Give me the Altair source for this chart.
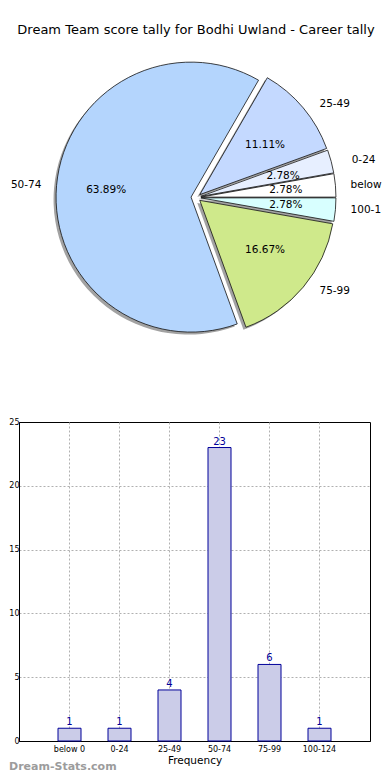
import altair as alt
import pandas as pd

# ---- data ----
categories = ["below 0", "0-24", "25-49", "50-74", "75-99", "100-124"]
counts = [1, 1, 4, 23, 6, 1]
title_text = "Dream Team score tally for Bodhi Uwland - Career tally"
watermark = "Dream-Stats.com"

slice_colors = ["#ffffff", "#e7efff", "#c4d9ff", "#b4d5fd", "#cfe98b", "#d8ffff"]

FONT = "DejaVu Sans"
EXPLODE = 0.035
R = 135          # pie radius (px)
CX, CY = 177, 189.5
RX, RY = 142, 128
PIE_W = 363

df = pd.DataFrame({"category": categories, "n": counts, "order": list(range(len(categories)))})

xs = alt.Scale(domain=[-1, 1], range=[CX - RX, CX + RX])
ys = alt.Scale(domain=[-1, 1], range=[CY + RY, CY - RY])

base = (
    alt.Chart(df)
    .transform_joinaggregate(total="sum(n)")
    .transform_window(cum="sum(n)", sort=[alt.SortField("order")], frame=[None, 0])
    .transform_calculate(
        a0="(datum.cum - datum.n) / datum.total * 2 * PI",
        a1="datum.cum / datum.total * 2 * PI",
    )
    .transform_calculate(
        mid="(datum.a0 + datum.a1) / 2",
        t0="2.5 * PI - datum.a1",
        t1="2.5 * PI - datum.a0",
    )
    .transform_calculate(
        ex=f"{EXPLODE} * cos(datum.mid)",
        ey=f"{EXPLODE} * sin(datum.mid)",
        lx=f"{EXPLODE + 1.1} * cos(datum.mid)",
        ly=f"{EXPLODE + 1.1} * sin(datum.mid)",
        px=f"{EXPLODE + 0.6} * cos(datum.mid)",
        py=f"{EXPLODE + 0.6} * sin(datum.mid)",
        pct="format(datum.n / datum.total * 100, '.2f') + '%'",
    )
)

shadow = base.mark_arc(radius=R, fill="#555555", opacity=0.55, xOffset=-2.5, yOffset=2.5).encode(
    theta=alt.Theta("t0:Q", scale=None),
    theta2=alt.Theta2("t1:Q"),
    x=alt.X("ex:Q", scale=xs, axis=None),
    y=alt.Y("ey:Q", scale=ys, axis=None),
)

slices = base.mark_arc(radius=R, stroke="#111111", strokeWidth=0.8).encode(
    theta=alt.Theta("t0:Q", scale=None),
    theta2=alt.Theta2("t1:Q"),
    x=alt.X("ex:Q", scale=xs, axis=None),
    y=alt.Y("ey:Q", scale=ys, axis=None),
    color=alt.Color("category:N", scale=alt.Scale(domain=categories, range=slice_colors), legend=None),
)

pct_text = base.mark_text(font=FONT, fontSize=10.5, color="black").encode(
    x=alt.X("px:Q", scale=xs, axis=None),
    y=alt.Y("py:Q", scale=ys, axis=None),
    text="pct:N",
)

lab_right = base.transform_filter("cos(datum.mid) >= 0 && abs(sin(datum.mid)) > 0.15").mark_text(
    font=FONT, fontSize=10.5, align="left", baseline="middle", color="black"
).encode(
    x=alt.X("lx:Q", scale=xs, axis=None),
    y=alt.Y("ly:Q", scale=ys, axis=None),
    text="category:N",
)

# labels at the right edge run off the picture, as in the original
lab_edge = base.transform_filter("cos(datum.mid) >= 0 && abs(sin(datum.mid)) <= 0.15").mark_text(
    font=FONT, fontSize=10.5, align="left", baseline="middle", color="black",
    dx=-6, limit=31.8, ellipsis="\u200b"
).encode(
    x=alt.X("lx:Q", scale=xs, axis=None),
    y=alt.Y("ly:Q", scale=ys, axis=None),
    text="category:N",
)

lab_left = base.transform_filter("cos(datum.mid) < 0").mark_text(
    font=FONT, fontSize=10.5, align="right", baseline="middle", color="black", dx=6
).encode(
    x=alt.X("lx:Q", scale=xs, axis=None),
    y=alt.Y("ly:Q", scale=ys, axis=None),
    text="category:N",
)

title = alt.Chart(pd.DataFrame({"t": [title_text]})).mark_text(
    font=FONT, fontSize=13, align="center", baseline="middle", color="black"
).encode(text="t:N", x=alt.value(CX), y=alt.value(22))

pie = alt.layer(shadow, slices, pct_text, lab_right, lab_edge, lab_left, title).properties(
    width=PIE_W, height=409
)

# ---- bar chart ----
grid_kw = dict(gridDash=[2, 2], gridColor="#b0b0b0", gridWidth=1)

bars = alt.Chart(df).mark_bar(fill="#cbcce8", stroke="#000099", strokeWidth=1).encode(
    x=alt.X(
        "category:N",
        sort=categories,
        scale=alt.Scale(paddingInner=0.54, paddingOuter=0.78),
        axis=alt.Axis(
            title="Frequency", labelAngle=0, labelFontSize=8, labelColor="black",
            titleFontSize=10.5, titleFontWeight="normal", titleColor="black", titleFont=FONT,
            labelFont=FONT, ticks=False, labelPadding=4, titlePadding=2,
            domainColor="black", bandPosition=0.5, grid=True, **grid_kw,
        ),
    ),
    y=alt.Y(
        "n:Q",
        scale=alt.Scale(domain=[0, 25], nice=False),
        axis=alt.Axis(
            title="", values=[0, 5, 10, 15, 20, 25], labelFontSize=8, labelColor="black",
            labelFont=FONT, ticks=False, labelPadding=0, domainColor="black", grid=True,
            gridOpacity={"condition": {"test": "datum.value >= 25 || datum.value <= 0", "value": 0}, "value": 1},
            **grid_kw,
        ),
    ),
)

bar_labels = alt.Chart(df).mark_text(
    font=FONT, fontSize=10, color="#000099", baseline="bottom", dy=-1
).encode(
    x=alt.X("category:N", sort=categories),
    y=alt.Y("n:Q"),
    text="n:Q",
)

wm = alt.Chart(pd.DataFrame({"t": [watermark]})).mark_text(
    font=FONT, fontSize=11, fontWeight="bold", color="#9c9c9c", align="left", baseline="middle"
).encode(text="t:N", x=alt.value(-10), y=alt.value(345))

bar = alt.layer(bars, bar_labels, wm).properties(
    width=351, height=319, view=alt.ViewBackground(stroke="black", strokeWidth=1)
)

chart = (
    alt.vconcat(pie, bar, spacing=0)
    .properties(padding=0, background="white")
    .configure_view(strokeWidth=0)
)

chart.save("out.html", embed_options={"renderer": "svg", "actions": False})
